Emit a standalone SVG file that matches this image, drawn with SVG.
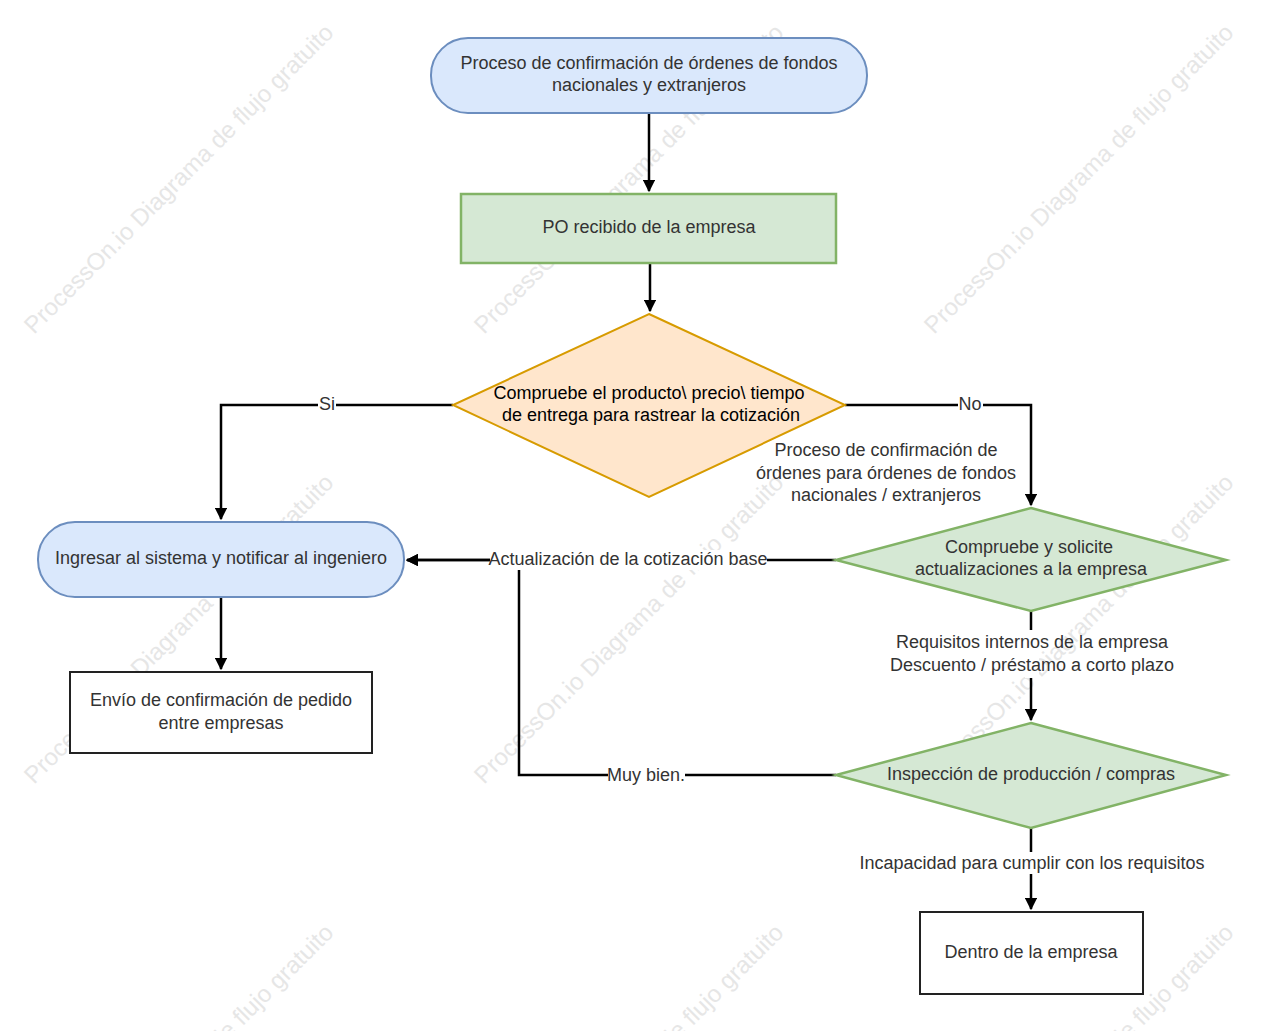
<svg xmlns="http://www.w3.org/2000/svg" width="1263" height="1031" viewBox="0 0 1263 1031">
<style>
text{font-family:"Liberation Sans",Arial,sans-serif;font-size:18px;fill:#333;text-anchor:middle;dominant-baseline:middle}
.wm{font-size:24px;fill:#e6e6e6}
.blue{fill:#dae8fc;stroke:#6c8ebf;stroke-width:2}
.green{fill:#d5e8d4;stroke:#82b366;stroke-width:2.5}
.orange{fill:#ffe6cc;stroke:#d79b00;stroke-width:2}
.plain{fill:#fff;stroke:#222;stroke-width:2}
.edge{fill:none;stroke:#000;stroke-width:2.5}
.bg{fill:#fff}
</style>
<defs><marker id="a" viewBox="0 0 10 10" refX="9" refY="5" markerWidth="5" markerHeight="5" orient="auto" markerUnits="strokeWidth"><path d="M0,0L10,5L0,10z" fill="#000"/></marker></defs>
<rect width="1263" height="1031" fill="#fff"/>
<g id="watermarks">
<text class="wm" transform="translate(180,180) rotate(-45)">ProcessOn.io Diagrama de flujo gratuito</text>
<text class="wm" transform="translate(630,180) rotate(-45)">ProcessOn.io Diagrama de flujo gratuito</text>
<text class="wm" transform="translate(1080,180) rotate(-45)">ProcessOn.io Diagrama de flujo gratuito</text>
<text class="wm" transform="translate(180,630) rotate(-45)">ProcessOn.io Diagrama de flujo gratuito</text>
<text class="wm" transform="translate(630,630) rotate(-45)">ProcessOn.io Diagrama de flujo gratuito</text>
<text class="wm" transform="translate(1080,630) rotate(-45)">ProcessOn.io Diagrama de flujo gratuito</text>
<text class="wm" transform="translate(180,1080) rotate(-45)">ProcessOn.io Diagrama de flujo gratuito</text>
<text class="wm" transform="translate(630,1080) rotate(-45)">ProcessOn.io Diagrama de flujo gratuito</text>
<text class="wm" transform="translate(1080,1080) rotate(-45)">ProcessOn.io Diagrama de flujo gratuito</text>
</g>
<g id="connectors">
<path class="edge" d="M649,113V191" marker-end="url(#a)"/>
<path class="edge" d="M650,263V311" marker-end="url(#a)"/>
<path class="edge" d="M453,405H221V519" marker-end="url(#a)"/>
<path class="edge" d="M845,405H1031V505" marker-end="url(#a)"/>
<path class="edge" d="M836,560H407" marker-end="url(#a)"/>
<path class="edge" d="M1031,611V720" marker-end="url(#a)"/>
<path class="edge" d="M836,775H519V560H407" marker-end="url(#a)"/>
<path class="edge" d="M1031,828V909" marker-end="url(#a)"/>
<path class="edge" d="M221,597V669" marker-end="url(#a)"/>
<rect class="bg" x="318" y="396" width="18" height="18"/>
<rect class="bg" x="958" y="396" width="25" height="18"/>
<rect class="bg" x="490" y="550" width="277" height="20"/>
<rect class="bg" x="1025" y="630" width="14" height="48"/>
<rect class="bg" x="608" y="765" width="77" height="20"/>
<rect class="bg" x="1025" y="852" width="14" height="22"/>
<text x="327" y="405">Si</text>
<text x="970" y="405">No</text>
<text x="886" y="451">Proceso de confirmación de</text>
<text x="886" y="474">órdenes para órdenes de fondos</text>
<text x="886" y="496">nacionales / extranjeros</text>
<text x="628" y="560">Actualización de la cotización base</text>
<text x="1032" y="643">Requisitos internos de la empresa</text>
<text x="1032" y="666">Descuento / préstamo a corto plazo</text>
<text x="646" y="776">Muy bien.</text>
<text x="1032" y="864">Incapacidad para cumplir con los requisitos</text>
</g>
<g id="start"><rect class="blue" x="431" y="38" width="436" height="75" rx="37"/><text x="649" y="64">Proceso de confirmación de órdenes de fondos</text><text x="649" y="86">nacionales y extranjeros</text></g>
<g id="po"><rect class="green" x="461" y="194" width="375" height="69"/><text x="649" y="228">PO recibido de la empresa</text></g>
<g id="check"><path class="orange" d="M649,314L845,405L649,497L453,405Z"/><text x="649" y="394" style="fill:#000">Compruebe el producto\ precio\ tiempo</text><text x="651" y="416" style="fill:#000">de entrega para rastrear la cotización</text></g>
<g id="ingresar"><rect class="blue" x="38" y="522" width="366" height="75" rx="37"/><text x="221" y="559">Ingresar al sistema y notificar al ingeniero</text></g>
<g id="envio"><rect class="plain" x="70" y="672" width="302" height="81"/><text x="221" y="701">Envío de confirmación de pedido</text><text x="221" y="724">entre empresas</text></g>
<g id="solicite"><path class="green" d="M1031,508L1226,560L1031,611L836,560Z"/><text x="1029" y="548">Compruebe y solicite</text><text x="1031" y="570">actualizaciones a la empresa</text></g>
<g id="inspeccion"><path class="green" d="M1031,723L1226,775L1031,828L836,775Z"/><text x="1031" y="775">Inspección de producción / compras</text></g>
<g id="dentro"><rect class="plain" x="920" y="912" width="223" height="82"/><text x="1031" y="953">Dentro de la empresa</text></g>
</svg>
